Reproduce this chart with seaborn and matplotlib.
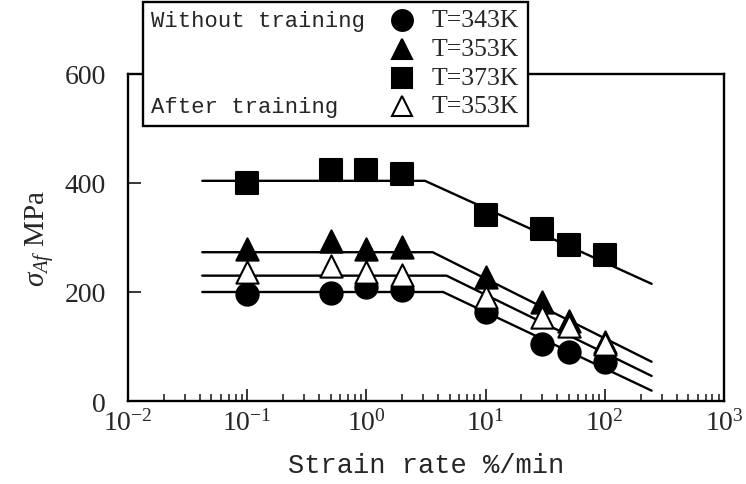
import matplotlib
matplotlib.use("Agg")
import matplotlib.pyplot as plt
import matplotlib.ticker as mticker
from matplotlib.patches import Rectangle
from matplotlib.lines import Line2D
import seaborn as sns
import pandas as pd

# ---------------- data ----------------
rates = [0.1, 0.5, 1, 2, 10, 30, 50, 100]
sigma_343K = [197, 199, 209, 204, 163, 105, 89, 71]
sigma_353K = [279, 294, 279, 283, 227, 181, 146, 108]
sigma_373K = [400, 423, 423, 416, 342, 316, 286, 267]
sigma_353K_trained = [236, 247, 236, 232, 190, 155, 137, 105]

fit_343K_x = [0.042, 4.4, 247]
fit_343K_y = [200, 200, 19]
fit_353K_x = [0.042, 3.6, 247]
fit_353K_y = [273, 273, 72]
fit_373K_x = [0.042, 3.1, 247]
fit_373K_y = [404, 404, 215]
fit_353K_trained_x = [0.042, 4.7, 247]
fit_353K_trained_y = [230, 230, 46]

legend_group = ["Without training", "", "", "After training"]
legend_labels = ["T=343K", "T=353K", "T=373K", "T=353K"]

xlabel = "Strain rate %/min"
ylabel = r"$\sigma_{Af}$ MPa"

# ---------------- style ----------------
sns.set_theme(style="white")
plt.rcParams["font.family"] = ["Liberation Serif", "DejaVu Serif"]
plt.rcParams["mathtext.fontset"] = "custom"
plt.rcParams["mathtext.rm"] = "Liberation Serif"
plt.rcParams["mathtext.it"] = "Liberation Serif:italic"

W, H = 746, 485
fig = plt.figure(figsize=(W / 100, H / 100), dpi=100)
ax = fig.add_axes([128 / W, 1 - 402 / H, (724 - 128) / W, (402 - 75) / H])

# fit lines
fits = [(fit_343K_x, fit_343K_y), (fit_353K_x, fit_353K_y),
        (fit_373K_x, fit_373K_y), (fit_353K_trained_x, fit_353K_trained_y)]
for fx, fy in fits:
    sns.lineplot(x=fx, y=fy, ax=ax, color="black", lw=1.7, zorder=2)

ms = 16
series = [
    (sigma_343K, "o", "black", 3),
    (sigma_353K, "^", "black", 4),
    (sigma_373K, "s", "black", 5),
    (sigma_353K_trained, "^", "white", 6),
]
for vals, mk, fc, z in series:
    df = pd.DataFrame({"rate": rates, "sigma": vals})
    sns.scatterplot(data=df, x="rate", y="sigma", ax=ax, marker=mk, s=ms ** 2,
                    facecolor=fc, edgecolor="black", linewidth=1.5, zorder=z)

ax.set_xscale("log")
ax.set_xlim(1e-2, 1e3)
ax.set_ylim(0, 600)
ax.set_yticks([0, 200, 400, 600])
ax.xaxis.set_major_locator(mticker.LogLocator(base=10, numticks=10))
ax.xaxis.set_minor_locator(mticker.LogLocator(base=10, subs=range(2, 10), numticks=10))
ax.xaxis.set_major_formatter(mticker.LogFormatterMathtext())
ax.xaxis.set_minor_formatter(mticker.NullFormatter())

ax.tick_params(axis="x", which="major", direction="in", length=9, width=1.3,
               labelsize=20, pad=6, top=False, bottom=True)
ax.tick_params(axis="x", which="minor", direction="in", length=5, width=1.2,
               top=False, bottom=True)
ax.tick_params(axis="y", which="major", direction="in", length=9, width=1.3,
               labelsize=20, pad=16, left=True, right=False)
ax.tick_params(axis="y", which="minor", left=False, right=False)

for sp in ax.spines.values():
    sp.set_visible(True)
    sp.set_color("black")
    sp.set_linewidth(1.7)

ax.set_xlabel(xlabel, fontsize=19.5, family=["Liberation Mono", "DejaVu Sans Mono"],
              labelpad=12)
ax.set_ylabel(ylabel, fontsize=21, labelpad=6)

# ---------------- legend box ----------------
def fx_(px):
    return px / W

def fy_(py):
    return 1 - py / H

rect = Rectangle((fx_(143), fy_(127)), (528 - 143) / W, (127 - 3) / H,
                 transform=fig.transFigure, facecolor="white", edgecolor="black",
                 linewidth=1.7, zorder=10, clip_on=False)
fig.add_artist(rect)

row_y = [21, 50, 79, 107]
leg_markers = [("o", "black"), ("^", "black"), ("s", "black"), ("^", "white")]
for i in range(4):
    if legend_group[i]:
        fig.text(fx_(151), fy_(row_y[i]), legend_group[i], fontsize=16,
                 family=["Liberation Mono", "DejaVu Sans Mono"], va="center",
                 ha="left", zorder=11)
    mk, fc = leg_markers[i]
    fig.add_artist(Line2D([fx_(402)], [fy_(row_y[i])], transform=fig.transFigure,
                          marker=mk, markersize=15, markerfacecolor=fc,
                          markeredgecolor="black", markeredgewidth=1.5,
                          linestyle="none", zorder=11))
    fig.text(fx_(432), fy_(row_y[i]), legend_labels[i], fontsize=18.5,
             va="center", ha="left", zorder=11)

fig.savefig("out.png", dpi=100)
